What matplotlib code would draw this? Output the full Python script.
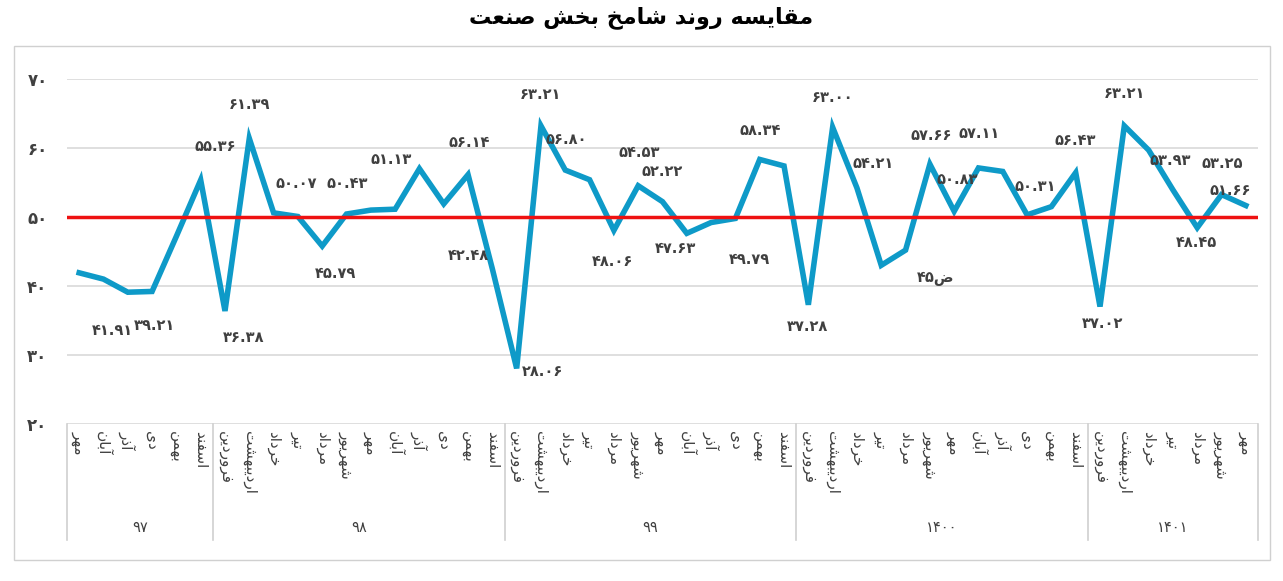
import matplotlib
matplotlib.use("Agg")
import matplotlib.pyplot as plt
from matplotlib.patches import Rectangle

# --- data ---
years = ["97", "98", "99", "1400", "1401"]
months_97 = ["مهر", "آبان", "آذر", "دی", "بهمن", "اسفند"]
months_full = ["فروردین", "اردیبهشت", "خرداد", "تیر", "مرداد", "شهریور",
               "مهر", "آبان", "آذر", "دی", "بهمن", "اسفند"]
months_1401 = months_full[:7]
months = months_97 + months_full * 3 + months_1401
group_sizes = [6, 12, 12, 12, 7]

values = [41.91, 41.0, 39.1, 39.21, 47.2, 55.36,
          36.38, 61.39, 50.6, 50.07, 45.79, 50.43, 51.0, 51.13, 57.0, 51.9, 56.14, 42.48,
          28.06, 63.21, 56.80, 55.4, 48.06, 54.53, 52.22, 47.63, 49.2, 49.79, 58.34, 57.4,
          37.28, 63.00, 54.21, 43.0, 45.2, 57.66, 50.83, 57.11, 56.6, 50.31, 51.5, 56.43,
          37.02, 63.21, 59.7, 53.93, 48.45, 53.25, 51.66]

# labelled points: index -> (dx, dy) offset in pixels
label_offsets = {0: (33, -58), 3: (2, -34), 5: (15, 34), 6: (19, -27), 7: (0, 34),
                 9: (-2, 33), 10: (13, -27), 11: (1, 31), 13: (-4, 50), 16: (1, 32),
                 17: (-24, 13), 18: (26, -3), 19: (-1, 31), 20: (1, 31), 22: (-1, -31),
                 23: (1, 33), 24: (0, 30), 25: (-11, -15), 27: (14, -41), 28: (0, 29),
                 30: (-1, -22), 31: (0, 30), 32: (16, 24), 34: (30, -28), 35: (1, 29),
                 36: (3, 32), 37: (1, 34), 39: (8, 28), 41: (0, 32), 42: (3, -17),
                 43: (0, 32), 45: (-3, 29), 46: (-1, -15), 47: (1, 31), 48: (-16, 15)}
special_labels = {34: "45ض"}

# --- simple persian shaping (matplotlib has no bidi / joining) ---
FORMS = {
    "ا": (0xFE8D, 0xFE8E), "آ": (0xFE81, 0xFE82), "د": (0xFEA9, 0xFEAA),
    "ذ": (0xFEAB, 0xFEAC), "ر": (0xFEAD, 0xFEAE), "و": (0xFEED, 0xFEEE),
    "ب": (0xFE8F, 0xFE90, 0xFE91, 0xFE92), "ت": (0xFE95, 0xFE96, 0xFE97, 0xFE98),
    "خ": (0xFEA5, 0xFEA6, 0xFEA7, 0xFEA8), "س": (0xFEB1, 0xFEB2, 0xFEB3, 0xFEB4),
    "ش": (0xFEB5, 0xFEB6, 0xFEB7, 0xFEB8), "ص": (0xFEB9, 0xFEBA, 0xFEBB, 0xFEBC),
    "ع": (0xFEC9, 0xFECA, 0xFECB, 0xFECC), "ف": (0xFED1, 0xFED2, 0xFED3, 0xFED4),
    "ق": (0xFED5, 0xFED6, 0xFED7, 0xFED8), "م": (0xFEE1, 0xFEE2, 0xFEE3, 0xFEE4),
    "ن": (0xFEE5, 0xFEE6, 0xFEE7, 0xFEE8), "ه": (0xFEE9, 0xFEEA, 0xFEEB, 0xFEEC),
    "ی": (0xFBFC, 0xFBFD, 0xFBFE, 0xFBFF), "ض": (0xFEBD, 0xFEBE, 0xFEBF, 0xFEC0),
}


def shape_word(w):
    out = []
    for i, ch in enumerate(w):
        f = FORMS.get(ch)
        if f is None:
            out.append(ch)
            continue
        prev = w[i - 1] if i > 0 else None
        nxt = w[i + 1] if i + 1 < len(w) else None
        join_prev = prev in FORMS and len(FORMS[prev]) == 4
        join_next = nxt in FORMS and len(f) == 4
        if join_prev and join_next:
            out.append(chr(f[3]))
        elif join_prev:
            out.append(chr(f[1]))
        elif join_next:
            out.append(chr(f[2]))
        else:
            out.append(chr(f[0]))
    return "".join(reversed(out))


def fa(text):
    return " ".join(shape_word(w) for w in reversed(text.split(" ")))


DIG = str.maketrans("0123456789", "۰۱۲۳۴۵۶۷۸۹")


def fa_num(s):
    return s.translate(DIG)


# --- plot ---
fig = plt.figure(figsize=(12.83, 5.81), dpi=100)
fig.patches.append(Rectangle((14 / 1283, 1 - 560 / 581), 1256 / 1283, 514 / 581,
                             transform=fig.transFigure, fill=False,
                             edgecolor="#d0d0d0", linewidth=1))
ax = fig.add_axes([67 / 1283, 1 - 424 / 581, 1191 / 1283, 345 / 581])
x = list(range(len(values)))
ax.plot(x, values, color="#0e9ac8", linewidth=4, solid_joinstyle="miter", zorder=3)
ax.axhline(50, color="#ee1111", linewidth=2.5, zorder=4)

ax.set_xlim(-0.5, len(values) - 0.5)
ax.set_ylim(20, 70)
yt = [20, 30, 40, 50, 60, 70]
ax.set_yticks(yt)
ax.set_yticklabels([fa_num(str(v)) for v in yt], fontsize=12, fontweight="bold",
                   color="#404040")
for v in yt:
    ax.axhline(v, color="#d9d9d9", linewidth=1.2, zorder=1)
ax.tick_params(axis="y", length=0, pad=14)
ax.set_xticks([])
for s in ax.spines.values():
    s.set_visible(False)

for i, (dx, dy) in label_offsets.items():
    if i in special_labels:
        txt = fa_num(special_labels[i][:2]) + chr(0xFEBD)
    else:
        txt = fa_num(f"{values[i]:.2f}")
    ax.annotate(txt, (i, values[i]), xytext=(dx * 0.72, dy * 0.72),
                textcoords="offset points", ha="center", va="center",
                fontsize=10.5, fontweight="bold", color="#404040", zorder=5)

# category axis (months + years)
for i, m in enumerate(months):
    ax.text(i, -0.02, fa(m), rotation=-90, ha="center", va="top",
            transform=ax.get_xaxis_transform(), fontsize=11, color="#404040")
bounds = [-0.5]
for g in group_sizes:
    bounds.append(bounds[-1] + g)
for b in bounds:
    ax.plot([b, b], [0, -0.336], color="#d0d0d0", linewidth=1.2,
            transform=ax.get_xaxis_transform(), clip_on=False)
for k, y in enumerate(years):
    ax.text((bounds[k] + bounds[k + 1]) / 2, -0.3, fa_num(y), ha="center", va="center",
            transform=ax.get_xaxis_transform(), fontsize=10.5, color="#404040")

fig.text(0.5, 1 - 18 / 581, fa("مقایسه روند شامخ بخش صنعت"), ha="center", va="center",
         fontsize=16, fontweight="bold", color="#000000")

fig.savefig("out.png", dpi=100)
